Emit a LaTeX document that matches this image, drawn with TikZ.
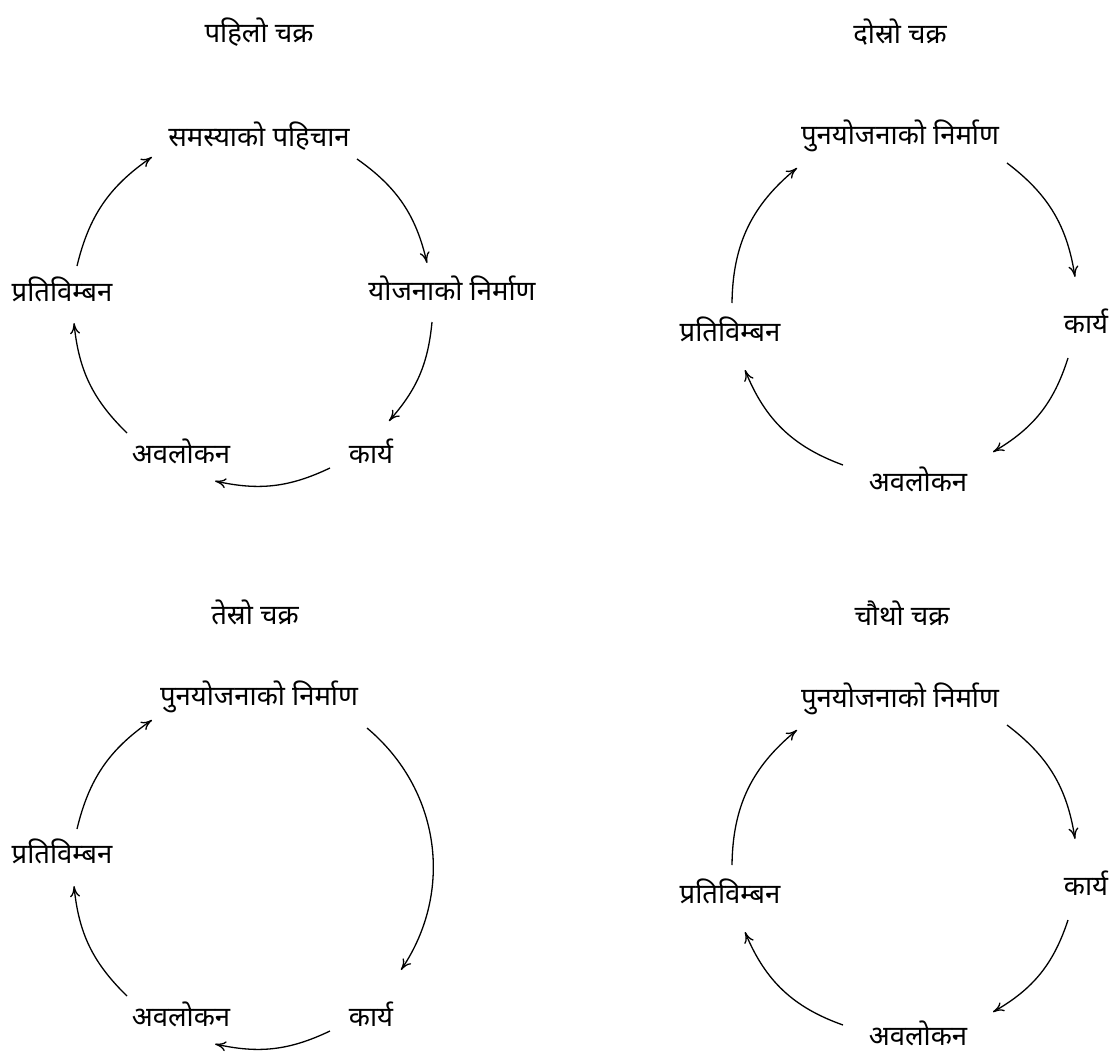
\documentclass[tikz,border=0pt]{standalone}
\usepackage{fontspec}
\newfontfamily\dev[Script=Devanagari]{Noto Sans}
\usetikzlibrary{arrows.meta}
\begin{document}
\begin{tikzpicture}[x=1pt,y=-1pt,
  lbl/.style={font=\dev\fontsize{27.5}{32}\selectfont, inner sep=0pt, anchor=center},
  cyc/.style={line width=1.3pt, -{To[length=11pt,width=10pt]}}]
\useasboundingbox (0,0) rectangle (1113,1054);

% ---------- Cycle 1 ----------
\node[lbl] (t1) at (259,32) {पहिलो चक्र};
\node[lbl] (p1) at (259,136) {समस्याको पहिचान};
\node[lbl] (y1) at (452,288) {योजनाको निर्माण};
\node[lbl] (k1) at (371,451) {कार्य};
\node[lbl] (a1) at (181,451) {अवलोकन};
\node[lbl] (r1) at (62,289) {प्रतिविम्बन};
\coordinate (c1s1) at (357,159); \coordinate (c1e1) at (427,263);
\coordinate (c1s2) at (432,322); \coordinate (c1e2) at (389,421);
\coordinate (c1s3) at (330,468); \coordinate (c1e3) at (215,481);
\coordinate (c1s4) at (127,433); \coordinate (c1e4) at (74,323);
\coordinate (c1s5) at (77,266);  \coordinate (c1e5) at (152,157);
\draw[cyc] (c1s1) to[bend left=21] (c1e1);
\draw[cyc] (c1s2) to[bend left=18] (c1e2);
\draw[cyc] (c1s3) to[bend left=19] (c1e3);
\draw[cyc] (c1s4) to[bend left=20] (c1e4);
\draw[cyc] (c1s5) to[bend left=21] (c1e5);

% ---------- Cycle 2 ----------
\node[lbl] (t2) at (900,32) {दोस्रो चक्र};
\node[lbl] (p2) at (900,136) {पुनयोजनाको निर्माण};
\node[lbl] (k2) at (1086,321) {कार्य};
\node[lbl] (a2) at (918,479) {अवलोकन};
\node[lbl] (r2) at (730,329) {प्रतिविम्बन};
\coordinate (c2s1) at (1007,163); \coordinate (c2e1) at (1075,277);
\coordinate (c2s2) at (1068,358); \coordinate (c2e2) at (993,452);
\coordinate (c2s3) at (843,465);  \coordinate (c2e3) at (745,370);
\coordinate (c2s4) at (732,303);  \coordinate (c2e4) at (797,168);
\draw[cyc] (c2s1) to[bend left=22] (c2e1);
\draw[cyc] (c2s2) to[bend left=21] (c2e2);
\draw[cyc] (c2s3) to[bend left=24] (c2e3);
\draw[cyc] (c2s4) to[bend left=25] (c2e4);

% ---------- Cycle 3 ----------
\node[lbl] (t3) at (255,612) {तेस्रो चक्र};
\node[lbl] (p3) at (259,697) {पुनयोजनाको निर्माण};
\node[lbl] (k3) at (371,1014) {कार्य};
\node[lbl] (a3) at (181,1014) {अवलोकन};
\node[lbl] (r3) at (62,851) {प्रतिविम्बन};
\coordinate (c3s1) at (367,728);  \coordinate (c3e1) at (401,970);
\coordinate (c3s2) at (330,1031); \coordinate (c3e2) at (215,1044);
\coordinate (c3s3) at (127,996);  \coordinate (c3e3) at (74,886);
\coordinate (c3s4) at (77,829);   \coordinate (c3e4) at (152,720);
\draw[cyc] (c3s1) to[bend left=42] (c3e1);
\draw[cyc] (c3s2) to[bend left=19] (c3e2);
\draw[cyc] (c3s3) to[bend left=20] (c3e3);
\draw[cyc] (c3s4) to[bend left=21] (c3e4);

% ---------- Cycle 4 ----------
\node[lbl] (t4) at (902,613) {चौथो चक्र};
\node[lbl] (p4) at (900,699) {पुनयोजनाको निर्माण};
\node[lbl] (k4) at (1086,883) {कार्य};
\node[lbl] (a4) at (918,1033) {अवलोकन};
\node[lbl] (r4) at (730,891) {प्रतिविम्बन};
\coordinate (c4s1) at (1007,725);  \coordinate (c4e1) at (1075,839);
\coordinate (c4s2) at (1068,920);  \coordinate (c4e2) at (993,1012);
\coordinate (c4s3) at (843,1025);  \coordinate (c4e3) at (745,932);
\coordinate (c4s4) at (732,865);   \coordinate (c4e4) at (797,730);
\draw[cyc] (c4s1) to[bend left=22] (c4e1);
\draw[cyc] (c4s2) to[bend left=21] (c4e2);
\draw[cyc] (c4s3) to[bend left=24] (c4e3);
\draw[cyc] (c4s4) to[bend left=25] (c4e4);
\end{tikzpicture}
\end{document}
